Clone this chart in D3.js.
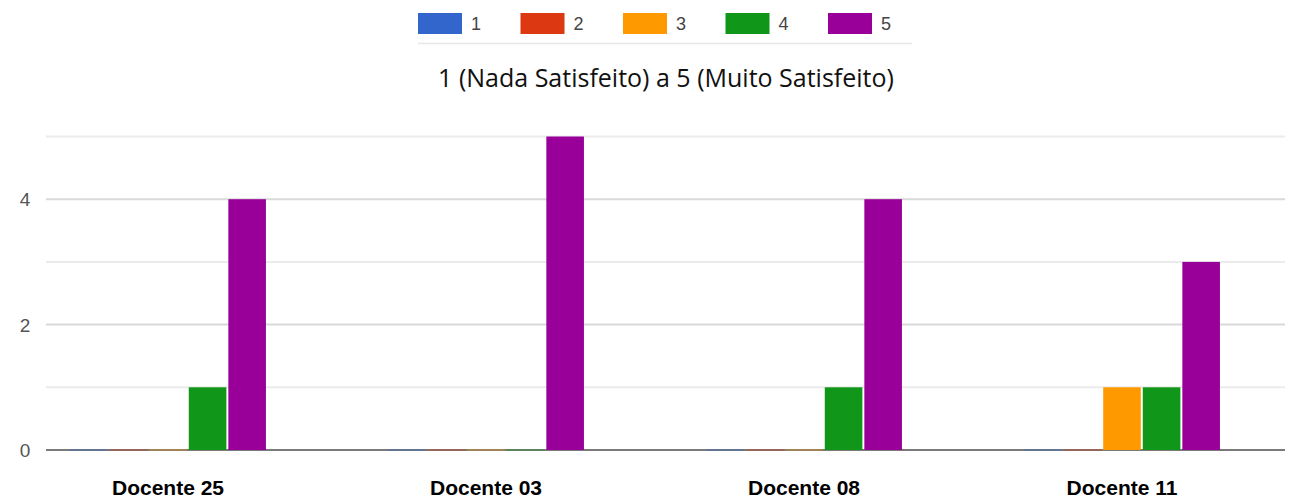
<!DOCTYPE html>
<html>
<head>
<meta charset="utf-8">
<script src="https://cdn.jsdelivr.net/npm/d3@7"></script>
<style>
  body { margin: 0; background: #fff; }
  svg { display: block; }
</style>
</head>
<body>
<div id="chart"></div>
<script>
const docentes = ['Docente 25', 'Docente 03', 'Docente 08', 'Docente 11'];
const levels = ['1', '2', '3', '4', '5'];
const levelColors = ['#3366cc', '#dc3912', '#ff9900', '#109618', '#990099'];
const counts = [
    [0, 0, 0, 1, 4],
    [0, 0, 0, 0, 5],
    [0, 0, 0, 1, 4],
    [0, 0, 1, 1, 3]
];
const yTicks = [0, 2, 4];
const yGrid = [1, 3, 5];
const title = '1 (Nada Satisfeito) a 5 (Muito Satisfeito)';

const width = 1290, height = 501;

const svg = d3.select('#chart').append('svg')
    .attr('width', width)
    .attr('height', height);

const x0 = d3.scaleBand().domain(docentes).range([9, 1281]).paddingInner(0.384).paddingOuter(0.192);
const x1 = d3.scaleBand().domain(levels).range([0, x0.bandwidth()]).paddingInner(0.05);
const y = d3.scaleLinear().domain([0, 5]).range([450, 136.5]);
const color = d3.scaleOrdinal().domain(levels).range(levelColors);

// legend
const legend = svg.append('g');
const legendX = d3.scalePoint().domain(levels).range([418, 828]);
legend.selectAll('rect').data(levels).enter().append('rect')
    .attr('x', d => legendX(d))
    .attr('y', 13)
    .attr('width', 44)
    .attr('height', 21)
    .attr('fill', d => color(d));
legend.selectAll('text').data(levels).enter().append('text')
    .attr('x', d => legendX(d) + 53)
    .attr('y', 30)
    .attr('font-family', 'Liberation Sans, Arial, sans-serif')
    .attr('font-size', 18)
    .attr('fill', '#444')
    .text(d => d);
svg.append('line')
    .attr('x1', 418).attr('x2', 912)
    .attr('y1', 43.5).attr('y2', 43.5)
    .attr('stroke', '#e6e6e6')
    .attr('stroke-width', 1.5);

// title
svg.append('text')
    .attr('x', 666)
    .attr('y', 87)
    .attr('text-anchor', 'middle')
    .attr('font-family', 'Open Sans, sans-serif')
    .attr('font-size', 25)
    .attr('fill', '#111')
    .text(title);

// grid
const grid = svg.append('g');
grid.selectAll('line.minor').data(yGrid).enter().append('line')
    .attr('class', 'minor')
    .attr('x1', 46).attr('x2', 1285)
    .attr('y1', d => y(d)).attr('y2', d => y(d))
    .attr('stroke', '#ebebeb')
    .attr('stroke-width', 2);
grid.selectAll('line.major').data(yTicks.filter(d => d > 0)).enter().append('line')
    .attr('class', 'major')
    .attr('x1', 46).attr('x2', 1285)
    .attr('y1', d => y(d)).attr('y2', d => y(d))
    .attr('stroke', '#d9d9d9')
    .attr('stroke-width', 2);

// y labels
svg.append('g').selectAll('text').data(yTicks).enter().append('text')
    .attr('x', 25)
    .attr('y', d => y(d) + 7)
    .attr('text-anchor', 'middle')
    .attr('font-family', 'Liberation Sans, Arial, sans-serif')
    .attr('font-size', 19)
    .attr('fill', '#555')
    .text(d => d);

// baseline
svg.append('line')
    .attr('x1', 46).attr('x2', 1285)
    .attr('y1', y(0)).attr('y2', y(0))
    .attr('stroke', '#7a7a7a')
    .attr('stroke-width', 2);

// bars
const groups = svg.append('g').selectAll('g').data(docentes).enter().append('g')
    .attr('transform', d => 'translate(' + x0(d) + ',0)');

groups.selectAll('rect')
    .data((d, i) => counts[i].map((v, j) => ({ level: levels[j], value: v })))
    .enter().append('rect')
    .attr('x', d => x1(d.level))
    .attr('width', x1.bandwidth())
    .attr('y', d => d.value > 0 ? y(d.value) : y(0) - 1)
    .attr('height', d => d.value > 0 ? y(0) - y(d.value) : 2)
    .attr('fill', d => color(d.level))
    .attr('opacity', d => d.value > 0 ? 1 : 0.3);

// x labels
svg.append('g').selectAll('text').data(docentes).enter().append('text')
    .attr('x', d => x0(d) + x0.bandwidth() / 2)
    .attr('y', 495)
    .attr('text-anchor', 'middle')
    .attr('font-family', 'Liberation Sans, Arial, sans-serif')
    .attr('font-weight', 'bold')
    .attr('font-size', 21)
    .attr('fill', '#000')
    .text(d => d);
</script>
</body>
</html>
